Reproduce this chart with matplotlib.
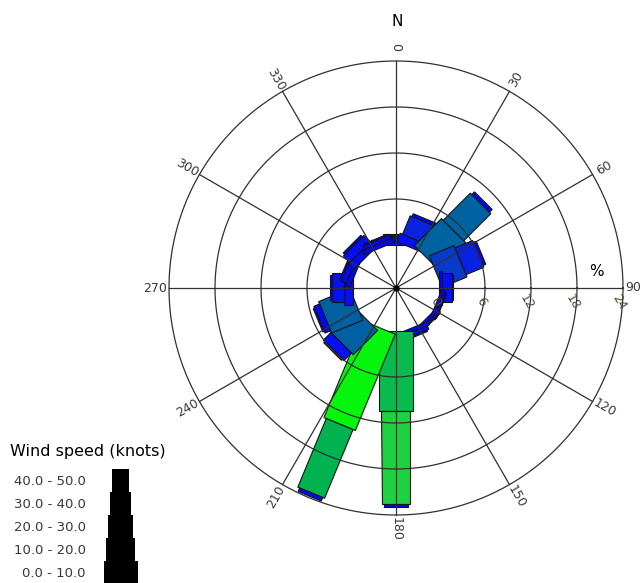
import numpy as np
import matplotlib
matplotlib.use("Agg")
import matplotlib.pyplot as plt
from matplotlib.patches import Polygon, Rectangle
from matplotlib.colors import LinearSegmentedColormap

# ---- data -------------------------------------------------------------
directions = [0, 22.5, 45, 67.5, 90, 112.5, 135, 157.5,
              180, 202.5, 225, 247.5, 270, 292.5, 315, 337.5]
speed_labels = ["0.0 - 10.0", "10.0 - 20.0", "20.0 - 30.0", "30.0 - 40.0", "40.0 - 50.0"]

# frequency (%) of each speed class for every direction
freq_0_10 = [0.7, 1.2, 5.0, 3.5, 0.4, 0.4, 0.4, 0.5, 10.4, 13.6, 4.5, 4.4, 1.2, 0.6, 1.0, 0.6]
freq_10_20 = [0.5, 2.6, 5.0, 2.5, 1.3, 0.3, 0.3, 0.5, 12.1, 9.7, 1.4, 0.8, 1.5, 0.8, 1.2, 0.5]
freq_20_30 = [0.2, 0.4, 0.5, 0.4, 0.1, 0.1, 0.1, 0.2, 0.5, 0.5, 0.2, 0.2, 0.3, 0.2, 0.3, 0.2]
freq_30_40 = [0, 0, 0, 0, 0, 0, 0, 0, 0, 0, 0, 0, 0, 0, 0, 0]
freq_40_50 = [0, 0, 0, 0, 0, 0, 0, 0, 0, 0, 0, 0, 0, 0, 0, 0]

angle_ticks = [0, 30, 60, 90, 120, 150, 180, 210, 240, 270, 300, 330]
ring_ticks = [0, 6, 12, 18, 24]

# ---- layout -----------------------------------------------------------
W, H = 643, 583
CX, CY = 396, 288          # rose centre (pixels)
PX = 46 / 6                # pixels per percent
HOLE = 43 / PX             # radius of the calm hole in percent units
class_width_px = [34, 29, 25, 21, 17]
class_width = [w / PX for w in class_width_px]

def px(x, y):
    """figure pixel position -> data units"""
    return (x - CX) / PX, (CY - y) / PX

fig = plt.figure(figsize=(W / 100, H / 100), dpi=100)
ax = fig.add_axes([0, 0, 1, 1])
ax.set_xlim(-CX / PX, (W - CX) / PX)
ax.set_ylim((CY - H) / PX, CY / PX)
ax.axis("off")

cmap = LinearSegmentedColormap.from_list(
    "rose",
    [(0.0, "#0000ff"), (1.5 / 14, "#0612f2"), (3.2 / 14, "#0a2ed4"),
     (4.4 / 14, "#0060a2"), (6.0 / 14, "#00679e"), (9.7 / 14, "#00b250"),
     (12.1 / 14, "#1ed042"), (1.0, "#00ff00")])

def unit(theta):
    t = np.deg2rad(theta)
    return np.array([np.sin(t), np.cos(t)]), np.array([np.cos(t), -np.sin(t)])

# ---- bars ---------------------------------------------------------------
classes = [freq_0_10, freq_10_20, freq_20_30, freq_30_40, freq_40_50]
for i, theta in enumerate(directions):
    u, v = unit(theta)
    r = HOLE
    for k, series in enumerate(classes):
        val = series[i]
        if val <= 0:
            continue
        h = class_width[k] / 2
        r2 = r + val
        pts = [r * u - h * v, r2 * u - h * v, r2 * u + h * v, r * u + h * v]
        ax.add_patch(Polygon(pts, closed=True, facecolor=cmap(min(val, 14) / 14),
                             edgecolor="#151515", lw=0.8, zorder=2))
        r = r2

# ---- grid ---------------------------------------------------------------
grid_kw = dict(color="#303030", lw=0.9, zorder=3)
phi = np.linspace(0, 2 * np.pi, 400)
for t in ring_ticks[1:]:
    rr = HOLE + t
    ax.plot(rr * np.cos(phi), rr * np.sin(phi), **grid_kw)
r_outer = HOLE + ring_ticks[-1]
for a in angle_ticks:
    u, _ = unit(a)
    ax.plot([0, r_outer * u[0]], [0, r_outer * u[1]], **grid_kw)
ax.plot([0], [0], "o", color="black", ms=3.5, zorder=4)

# angle labels
text_col = "#383838"
for a in angle_ticks:
    u, _ = unit(a)
    pos = 31.4 * u
    rot = (90 - a) % 180
    if rot >= 90:
        rot -= 180
    ha = "center"
    if a == 90:
        pos = pos - np.array([0.5, 0])
    ax.text(pos[0], pos[1], str(a), rotation=rot, ha=ha, va="center",
            fontsize=9, color=text_col, rotation_mode="anchor", zorder=5)

# radial labels along the east axis
for t in ring_ticks:
    x, _ = px(CX + (HOLE + t) * PX - 4, 0)
    _, y = px(0, 302)
    ax.text(x, y, str(t), rotation=-60, ha="center", va="center",
            fontsize=9, color="#5b4630", zorder=5)

ax.text(*px(397, 22), "N", ha="center", va="center", fontsize=11, color="black")
ax.text(*px(596, 272), "%", ha="center", va="center", fontsize=11, color="black")

# ---- legend -------------------------------------------------------------
ax.text(*px(88, 452), "Wind speed (knots)", ha="center", va="center",
        fontsize=11.5, color="black")
band_top = 469
band_h = 23
cx_leg = 121
for row, k in enumerate(reversed(range(len(speed_labels)))):
    y0 = band_top + row * band_h
    wpx = class_width_px[k]
    x0, y1 = px(cx_leg - wpx / 2, y0 + band_h)
    ax.add_patch(Rectangle((x0, y1), wpx / PX, band_h / PX,
                           facecolor="black", edgecolor="black", lw=0))
    ax.text(*px(86, y0 + band_h / 2 + 1), speed_labels[k], ha="right", va="center",
            fontsize=9.5, color=text_col)

fig.savefig("out.png", dpi=100, facecolor="white")
